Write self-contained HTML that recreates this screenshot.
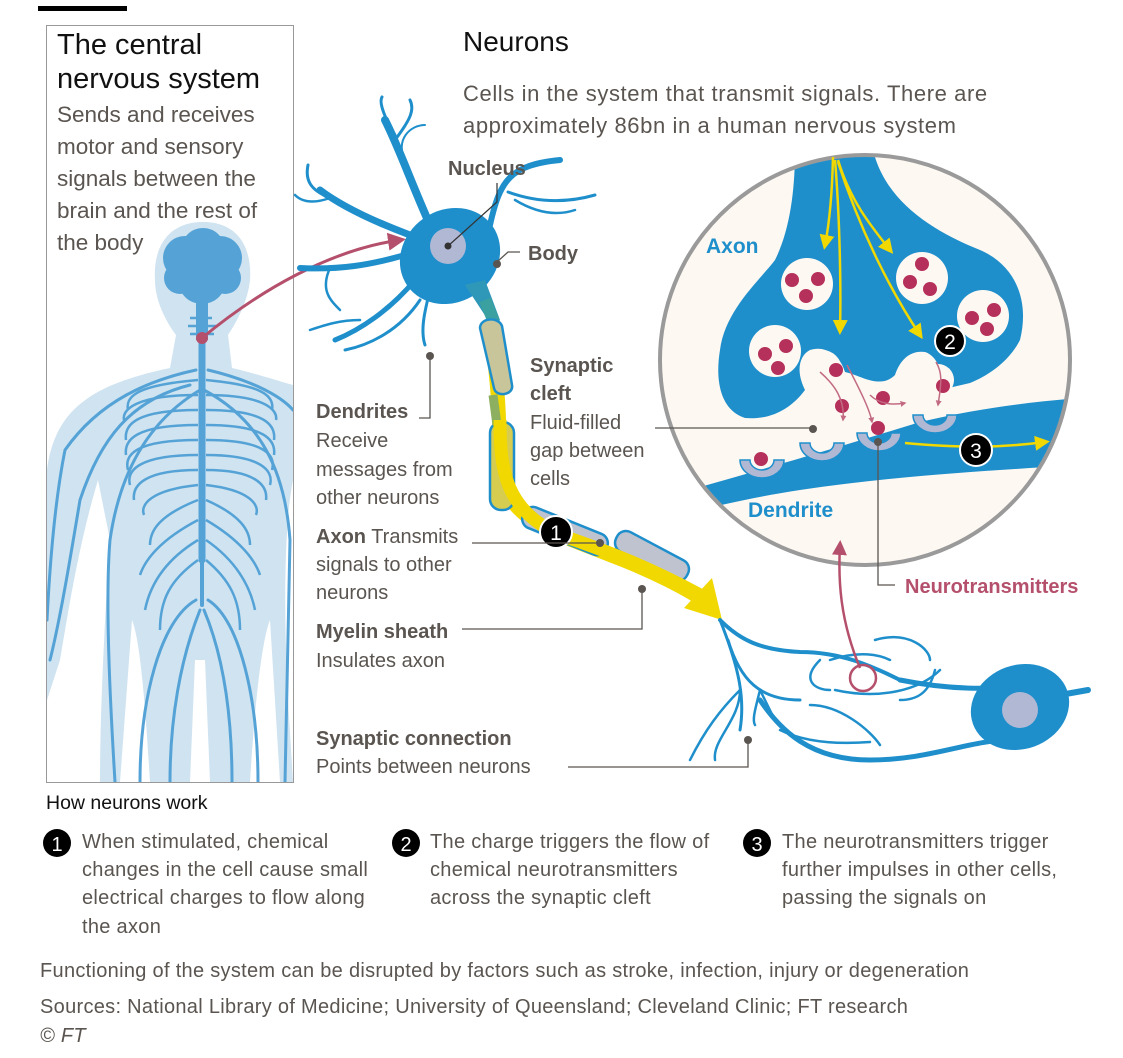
<!DOCTYPE html>
<html><head><meta charset="utf-8"><style>
html,body{margin:0;padding:0;background:#fff;}
svg{display:block;font-family:"Liberation Sans",sans-serif;}
.t{fill:#5a5550;}
.b{font-weight:bold;fill:#5a5550;}
</style></head><body>
<svg width="1123" height="1058" viewBox="0 0 1123 1058" xmlns="http://www.w3.org/2000/svg">
<defs>
<clipPath id="cc"><circle cx="865" cy="360" r="205"/></clipPath>
<clipPath id="pc"><rect x="47" y="26" width="246" height="756"/></clipPath>
<marker id="ay" markerWidth="6" markerHeight="6" refX="4" refY="3" orient="auto"><path d="M0,0 L6,3 L0,6 z" fill="#f0d800"/></marker>
<marker id="ap" markerWidth="6" markerHeight="6" refX="4" refY="3" orient="auto"><path d="M0,0 L6,3 L0,6 z" fill="#b5506c"/></marker>
<marker id="ap2" markerWidth="4" markerHeight="4" refX="3" refY="2" orient="auto"><path d="M0,0 L4,2 L0,4 z" fill="#c26a82"/></marker>
</defs>
<rect x="38" y="6" width="89" height="5" fill="#000"/>
<rect x="46.5" y="25.5" width="247" height="757" fill="#fff" stroke="#999" stroke-width="1"/>
<g clip-path="url(#pc)">
<path fill="#cfe3f1" d="M203,222 C240,222 252,250 250,280 C248,300 238,320 228,335 L232,368 C250,372 275,380 293,385 L293,480 C285,520 283,600 288,700 L293,782 L280,782 L270,620 C262,640 255,700 250,782 L210,782 L205,660 L195,660 L190,782 L150,782 C145,700 140,640 132,620 L120,782 L100,782 C100,700 106,600 110,540 L98,480 C80,540 70,600 60,660 L47,700 L47,470 C55,410 90,385 170,368 L176,335 C165,320 155,300 155,280 C153,250 166,222 203,222Z"/>
<g fill="#55a3d6">
<circle cx="185" cy="258" r="22"/><circle cx="220" cy="258" r="22"/><circle cx="202" cy="280" r="24"/><circle cx="203" cy="250" r="22"/><circle cx="180" cy="278" r="16"/><circle cx="225" cy="278" r="16"/>
<rect x="196" y="290" width="12" height="50"/>
</g>
<g fill="none" stroke="#55a3d6" stroke-width="3" stroke-linecap="round">
<path d="M202,330 L202,560" stroke-width="7"/>
<path d="M202,560 L202,605" stroke-width="4"/>
<path d="M196,370 C150,380 100,400 65,450 C55,500 50,560 47,620"/>
<path d="M208,370 C250,380 280,395 293,410"/>
<path d="M190,385 C130,400 100,440 80,500 C70,560 60,620 50,660"/>
<path d="M200,390 C150,420 120,470 110,540 C105,600 110,700 115,782"/>
<path d="M204,390 C260,420 285,470 290,540 L285,782"/>
<path d="M196,600 C160,620 140,700 140,782"/>
<path d="M208,600 C240,620 258,700 258,782"/>
<path d="M200,610 C180,660 170,720 170,782"/>
<path d="M204,610 C225,660 232,720 232,782"/>
</g>
<g fill="none" stroke="#55a3d6" stroke-width="2.5">
<path d="M198,380 C140,385 125,395 128,410"/><path d="M206,380 C260,385 275,395 272,410"/>
<path d="M198,395 C135,395 122,410 124,420"/><path d="M206,395 C265,395 278,410 276,420"/>
<path d="M198,410 C135,410 124,425 126,440"/><path d="M206,410 C265,410 276,425 274,440"/>
<path d="M198,425 C135,425 124,440 126,455"/><path d="M206,425 C265,425 276,440 274,455"/>
<path d="M198,440 C135,440 124,455 128,470"/><path d="M206,440 C265,440 276,455 272,470"/>
<path d="M198,455 C140,455 126,470 130,485"/><path d="M206,455 C260,455 274,470 270,485"/>
<path d="M198,470 C145,470 132,485 134,500"/><path d="M206,470 C255,470 268,485 266,500"/>
<path d="M198,485 C150,490 140,505 144,515"/><path d="M206,485 C250,490 260,505 256,515"/>
<path d="M198,500 C160,515 150,530 150,545"/><path d="M206,500 C240,515 250,530 250,545"/>
<path d="M198,520 C160,540 145,560 140,575"/><path d="M206,520 C240,540 255,560 260,575"/>
<path d="M198,540 C165,560 150,585 145,610"/><path d="M206,540 C235,560 250,585 255,610"/>
<path d="M198,560 C170,580 160,600 160,630"/><path d="M206,560 C230,580 240,600 240,630"/>
<path d="M190,318 L212,318 M188,326 L216,326 M190,334 L214,334"/>
</g>
</g>
<path d="M202,338 C260,290 330,250 400,240" fill="none" stroke="#b5506c" stroke-width="3" marker-end="url(#ap)"/>
<circle cx="202" cy="338" r="6" fill="#b5506c"/>
<text x="57" y="54" font-size="29" fill="#111">The central</text>
<text x="57" y="88" font-size="29" fill="#111">nervous system</text>
<g class="t" font-size="22.5">
<text x="57" y="122">Sends and receives</text>
<text x="57" y="154">motor and sensory</text>
<text x="57" y="186">signals between the</text>
<text x="57" y="218">brain and the rest of</text>
<text x="57" y="250">the body</text>
</g>
<text x="463" y="51" font-size="28" fill="#111">Neurons</text>
<g class="t" font-size="22" letter-spacing="0.6">
<text x="463" y="101">Cells in the system that transmit signals. There are</text>
<text x="463" y="133">approximately 86bn in a human nervous system</text>
</g>
<g fill="none" stroke="#1f8fcc" stroke-linecap="round">
<path d="M430,225 C410,180 400,150 385,120" stroke-width="8"/>
<path d="M395,135 C380,110 380,100 382,97" stroke-width="3"/>
<path d="M395,140 C410,120 415,110 410,100" stroke-width="3"/>
<path d="M405,160 C395,140 410,125 425,125" stroke-width="2"/>
<path d="M410,235 C370,220 340,205 320,190" stroke-width="7"/>
<path d="M330,198 C310,190 305,180 308,165" stroke-width="3"/>
<path d="M330,198 C310,205 300,200 295,195" stroke-width="2.5"/>
<path d="M405,255 C370,265 340,270 300,268" stroke-width="6"/>
<path d="M330,268 C320,290 330,300 340,310" stroke-width="2.5"/>
<path d="M415,280 C390,310 360,330 335,340" stroke-width="5"/>
<path d="M360,320 C340,320 325,325 310,330" stroke-width="2.5"/>
<path d="M430,290 C425,310 420,330 425,345" stroke-width="3"/>
<path d="M420,300 C400,330 370,345 345,350" stroke-width="3"/>
<path d="M490,225 C500,180 510,165 560,160" stroke-width="6"/>
<path d="M508,192 C530,200 560,205 595,195" stroke-width="3"/>
<path d="M515,200 C540,215 560,215 575,210" stroke-width="2.5"/>
</g>
<ellipse cx="450" cy="256" rx="52" ry="46" transform="rotate(-35 450 256)" fill="#1f8fcc"/>
<path d="M465,285 L488,320 L500,320 L485,280Z" fill="#2f98b8"/>
<circle cx="448" cy="246" r="18" fill="#b0b8d4"/>
<circle cx="448" cy="246" r="3.5" fill="#333"/>
<path d="M448,246 L497,202 L497,183" fill="none" stroke="#333" stroke-width="1.2"/>
<path d="M490,330 C498,380 500,420 500,470 C505,520 560,535 610,555 C650,570 690,590 710,605" fill="none" stroke="#f0d800" stroke-width="14"/>
<path d="M485,300 L497,330" stroke="#3aa0a0" stroke-width="12"/>
<g fill="#b9bfd4" stroke="#1f8fcc" stroke-width="2.5">
<path d="M480,328 C480,318 498,316 502,326 L512,385 C514,395 496,398 494,388 Z" fill="#c9c59a"/>
<rect x="490" y="422" width="24" height="88" rx="11" fill="#d6cc50"/>
<rect x="520" y="520" width="90" height="22" rx="10" transform="rotate(22 565 531)" fill="#bfc3d0"/>
<rect x="612" y="545" width="80" height="22" rx="10" transform="rotate(28 652 556)" fill="#bfc3d0"/>
</g>
<path d="M493,395 L497,425" stroke="#8db060" stroke-width="9"/>
<path d="M500,420 C500,470 505,510 560,535 C610,552 650,568 700,595" fill="none" stroke="#f0d800" stroke-width="13"/>
<path d="M712,578 L722,620 L684,608Z" fill="#f0d800"/>
<circle cx="556" cy="532" r="16" fill="#000" stroke="#fff" stroke-width="2"/>
<text x="556" y="540" font-size="21" fill="#fff" text-anchor="middle">1</text>
<g fill="none" stroke="#1f8fcc" stroke-linecap="round">
<path d="M720,620 C740,640 760,650 800,652 C840,652 870,665 900,680" stroke-width="4"/>
<path d="M900,680 C950,690 990,690 1030,685" stroke-width="5"/>
<path d="M720,620 C740,670 745,700 740,730" stroke-width="3"/>
<path d="M728,640 C740,680 760,700 800,700" stroke-width="3"/>
<path d="M740,690 C720,710 705,730 690,760" stroke-width="2.5"/>
<path d="M740,690 C740,720 712,740 715,760" stroke-width="2.5"/>
<path d="M760,690 C755,710 752,720 755,725" stroke-width="2.5"/>
<path d="M760,690 C770,710 772,715 775,720" stroke-width="2.5"/>
<path d="M760,700 C780,730 810,760 870,760 C930,760 970,740 1010,740" stroke-width="5"/>
<path d="M780,730 C800,740 830,745 870,742" stroke-width="2.5"/>
<path d="M810,705 C840,705 870,730 880,745" stroke-width="2.5"/>
<path d="M820,660 C800,680 815,690 830,690" stroke-width="2.5"/>
<path d="M830,660 C860,650 880,655 890,660" stroke-width="2.5"/>
<path d="M835,690 C880,700 920,690 940,670" stroke-width="2.5"/>
<path d="M875,640 C910,630 930,650 930,660" stroke-width="2.5"/>
<path d="M900,700 C920,700 930,690 935,670" stroke-width="2.5"/>
<path d="M1060,695 L1088,690" stroke-width="6"/>
</g>
<ellipse cx="1020" cy="707" rx="50" ry="42" transform="rotate(-20 1020 707)" fill="#1f8fcc"/>
<circle cx="1020" cy="710" r="18" fill="#b0b8d4"/>
<circle cx="865" cy="360" r="205" fill="#fdf8f2"/>
<g clip-path="url(#cc)">
<path fill="#1f8fcc" d="M795,150 L873,150 C885,200 930,230 980,250 C1015,265 1030,300 1020,340 C1010,360 990,375 970,383 L940,390 C945,370 935,355 925,352 C910,350 900,360 895,375 C880,390 860,375 845,372 C840,355 825,345 810,350 C800,355 795,370 805,390 C790,410 770,420 745,418 C720,410 715,380 720,350 C725,310 760,280 775,260 C790,230 795,190 795,150Z"/>
<path fill="#1f8fcc" d="M690,490 C760,470 830,450 920,422 C980,408 1030,402 1080,398 L1080,465 C1000,470 900,475 800,490 C760,496 720,505 690,512Z"/>
<circle cx="822" cy="370" r="20" fill="#fdf8f2"/>
<circle cx="938" cy="380" r="16" fill="#fdf8f2"/>
</g>
<circle cx="865" cy="360" r="205" fill="none" stroke="#9a9a9a" stroke-width="4"/>
<g fill="#fdf8f2">
<circle cx="807" cy="284" r="26"/><circle cx="922" cy="278" r="26"/><circle cx="775" cy="351" r="26"/><circle cx="983" cy="316" r="26"/>
</g>
<g fill="#b5305a">
<circle cx="792" cy="280" r="7"/><circle cx="818" cy="279" r="7"/><circle cx="806" cy="296" r="7"/>
<circle cx="922" cy="264" r="7"/><circle cx="910" cy="282" r="7"/><circle cx="930" cy="289" r="7"/>
<circle cx="765" cy="354" r="7"/><circle cx="786" cy="346" r="7"/><circle cx="778" cy="368" r="7"/>
<circle cx="994" cy="310" r="7"/><circle cx="972" cy="318" r="7"/><circle cx="987" cy="329" r="7"/>
<circle cx="836" cy="370" r="7"/><circle cx="842" cy="406" r="7"/><circle cx="883" cy="398" r="7"/><circle cx="943" cy="386" r="7"/><circle cx="878" cy="428" r="7"/><circle cx="761" cy="459" r="7"/>
</g>
<g fill="none" stroke="#c26a82" stroke-width="1.5" marker-end="url(#ap2)">
<path d="M820,372 C835,385 845,400 843,420"/>
<path d="M847,365 C860,390 870,410 872,422"/>
<path d="M870,395 C880,405 895,405 905,403"/>
<path d="M936,362 C942,372 942,380 938,405"/>
</g>
<g fill="#b0b8d4" stroke="#1f8fcc" stroke-width="1.5">
<path d="M740,460 a22,18 0 0 0 44,0 l-10,0 a12,10 0 0 1 -24,0 z"/>
<path d="M800,443 a22,18 0 0 0 44,0 l-10,0 a12,10 0 0 1 -24,0 z"/>
<path d="M857,433 a22,18 0 0 0 44,0 l-10,0 a12,10 0 0 1 -24,0 z"/>
<path d="M913,415 a22,18 0 0 0 44,0 l-10,0 a12,10 0 0 1 -24,0 z"/>
</g>
<g fill="none" stroke="#f0d800" stroke-width="2.5" marker-end="url(#ay)">
<path d="M833,157 C832,200 828,230 825,245"/>
<path d="M835,160 C840,220 841,290 840,330"/>
<path d="M838,160 C850,200 870,225 890,250"/>
<path d="M838,162 C860,230 890,290 920,335"/>
<path d="M905,443 C960,448 1000,448 1045,442"/>
</g>
<circle cx="950" cy="341" r="15" fill="#000" stroke="#fff" stroke-width="2"/>
<text x="950" y="349" font-size="21" fill="#fff" text-anchor="middle">2</text>
<circle cx="976" cy="450" r="16" fill="#000" stroke="#fff" stroke-width="2"/>
<text x="976" y="458" font-size="21" fill="#fff" text-anchor="middle">3</text>
<text x="706" y="253" font-size="21" font-weight="bold" fill="#1f8fcc">Axon</text>
<text x="748" y="517" font-size="21" font-weight="bold" fill="#1f8fcc">Dendrite</text>
<path d="M860,668 C840,620 838,580 840,545" fill="none" stroke="#b5506c" stroke-width="2.5" marker-end="url(#ap)"/>
<circle cx="863" cy="678" r="13" fill="none" stroke="#b5506c" stroke-width="2.5"/>
<g fill="none" stroke="#5a5550" stroke-width="1.3">
<path d="M655,428 L813,428"/>
<path d="M878,444 L878,585 L895,585"/>
<path d="M419,418 L430,418 L430,357"/>
<path d="M472,543 L600,543"/>
<path d="M462,629 L642,629 L642,590"/>
<path d="M568,767 L748,767 L748,740"/>
<path d="M497,262 L508,252 L520,252"/>
</g>
<g fill="#5a5550">
<circle cx="813" cy="429" r="4"/><circle cx="878" cy="442" r="4"/><circle cx="430" cy="356" r="4"/><circle cx="600" cy="543" r="4"/><circle cx="642" cy="589" r="4"/><circle cx="748" cy="740" r="4"/><circle cx="497" cy="264" r="4"/>
</g>
<g font-size="20">
<text class="b" x="448" y="175">Nucleus</text>
<text class="b" x="528" y="260">Body</text>
<text class="b" x="530" y="372">Synaptic</text>
<text class="b" x="530" y="400">cleft</text>
<text class="t" x="530" y="429">Fluid-filled</text>
<text class="t" x="530" y="457">gap between</text>
<text class="t" x="530" y="485">cells</text>
<text class="b" x="316" y="418">Dendrites</text>
<text class="t" x="316" y="447">Receive</text>
<text class="t" x="316" y="476">messages from</text>
<text class="t" x="316" y="504">other neurons</text>
<text x="316" y="543" class="t"><tspan font-weight="bold">Axon</tspan> Transmits</text>
<text class="t" x="316" y="571">signals to other</text>
<text class="t" x="316" y="599">neurons</text>
<text class="b" x="316" y="638">Myelin sheath</text>
<text class="t" x="316" y="667">Insulates axon</text>
<text class="b" x="316" y="745">Synaptic connection</text>
<text class="t" x="316" y="773">Points between neurons</text>
<text x="905" y="593" font-weight="bold" fill="#b5506c">Neurotransmitters</text>
</g>
<text x="46" y="809" font-size="19.5" fill="#111">How neurons work</text>
<g>
<circle cx="57" cy="843" r="14" fill="#000"/><text x="57" y="851" font-size="20" fill="#fff" text-anchor="middle">1</text>
<circle cx="406" cy="843" r="14" fill="#000"/><text x="406" y="851" font-size="20" fill="#fff" text-anchor="middle">2</text>
<circle cx="757" cy="843" r="14" fill="#000"/><text x="757" y="851" font-size="20" fill="#fff" text-anchor="middle">3</text>
</g>
<g class="t" font-size="20" letter-spacing="0.3">
<text x="82" y="848">When stimulated, chemical</text>
<text x="82" y="876">changes in the cell cause small</text>
<text x="82" y="904">electrical charges to flow along</text>
<text x="82" y="933">the axon</text>
<text x="430" y="848">The charge triggers the flow of</text>
<text x="430" y="876">chemical neurotransmitters</text>
<text x="430" y="904">across the synaptic cleft</text>
<text x="782" y="848">The neurotransmitters trigger</text>
<text x="782" y="876">further impulses in other cells,</text>
<text x="782" y="904">passing the signals on</text>
<text x="40" y="977">Functioning of the system can be disrupted by factors such as stroke, infection, injury or degeneration</text>
<text x="40" y="1013">Sources: National Library of Medicine; University of Queensland; Cleveland Clinic; FT research</text>
<text x="40" y="1042" font-style="italic">© FT</text>
</g>
</svg>
</body></html>
